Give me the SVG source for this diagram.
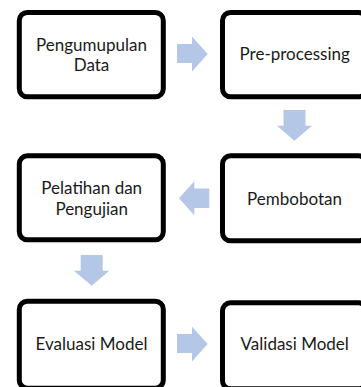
<svg xmlns="http://www.w3.org/2000/svg" width="361" height="387" viewBox="0 0 361 387">
<style>
.box{fill:#fff;stroke:#000;stroke-width:5}
.arr{fill:#B4C7E7}
text{font-family:Lato,"Liberation Sans",sans-serif;font-size:17px;fill:#1a1a1a;text-anchor:middle}
</style>
<rect width="361" height="387" fill="#fff"/>
<g id="connectors">
<polygon class="arr" points="177,44 192,44 192,36.5 207.7,54 192,71.5 192,63 177,63"/>
<polygon class="arr" points="283.5,110 305.5,110 305.5,125.7 312,125.7 294.5,140.7 277,125.7 283.5,125.7"/>
<polygon class="arr" points="209.3,188.5 194.3,188.5 194.3,181.3 179,198.3 194.3,215.3 194.3,208 209.3,208"/>
<polygon class="arr" points="80.7,255 102.7,255 102.7,270.7 109.3,270.7 91.7,285.7 74,270.7 80.7,270.7"/>
<polygon class="arr" points="177,334 192,334 192,326.7 207.7,344 192,361.5 192,353 177,353"/>
</g>
<g id="n1"><rect class="box" x="19.3" y="12.5" width="144" height="84.3" rx="8"/><text x="91.5" y="50.5">Pengumupulan</text><text x="91.5" y="71">Data</text></g>
<g id="n2"><rect class="box" x="222.5" y="12.5" width="144" height="84.3" rx="8"/><text x="294.7" y="60">Pre-processing</text></g>
<g id="n3"><rect class="box" x="19.3" y="155.8" width="144" height="84" rx="8"/><text x="91.7" y="194">Pelatihan dan</text><text x="91.7" y="214.5">Pengujian</text></g>
<g id="n4"><rect class="box" x="222.5" y="155.8" width="144" height="85" rx="8"/><text x="294.5" y="205">Pembobotan</text></g>
<g id="n5"><rect class="box" x="19.3" y="301.2" width="144" height="87" rx="8"/><text x="91.5" y="350.3">Evaluasi Model</text></g>
<g id="n6"><rect class="box" x="222.5" y="302.8" width="144" height="86" rx="8"/><text x="294.7" y="350.3">Validasi Model</text></g>
</svg>
